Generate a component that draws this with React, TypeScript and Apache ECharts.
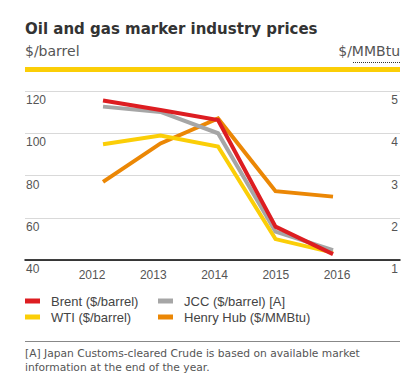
import React, { useEffect, useRef } from "react";
import * as echarts from "echarts";

const years = ["2012", "2013", "2014", "2015", "2016"];
const brent = [115.5, 111, 106.3, 55.8, 42.8];
const jcc = [112.6, 110.1, 100, 53.4, 44.7];
const wti = [94.8, 98.9, 93.7, 49.9, 43.5];
const henryHub = [2.85, 3.76, 4.35, 2.63, 2.5];
const leftTicks = { min: 40, max: 120, interval: 20 };
const rightTicks = { min: 1, max: 5, interval: 1 };

const names = {
  brent: "Brent ($/barrel)",
  wti: "WTI ($/barrel)",
  jcc: "JCC ($/barrel) [A]",
  hh: "Henry Hub ($/MMBtu)",
};

const colors = { brent: "#dd1d21", wti: "#fbce07", jcc: "#a6a6a6", hh: "#eb8705" };

const pairs = (vals: number[]) => vals.map((v, i) => [Number(years[i]), v]);

export default function App() {
  const ref = useRef<HTMLDivElement>(null);
  useEffect(() => {
    if (!ref.current) return;
    const chart = echarts.init(ref.current, undefined, { renderer: "svg" });
    const txt = "#555";
    const legendItems = [
      { name: names.brent, color: colors.brent, x: 25, y: 301 },
      { name: names.wti, color: colors.wti, x: 25, y: 317 },
      { name: names.jcc, color: colors.jcc, x: 158, y: 301 },
      { name: names.hh, color: colors.hh, x: 158, y: 317 },
    ];
    const legendGraphics = legendItems.flatMap((it) => [
      {
        type: "rect",
        shape: { x: it.x, y: it.y - 2.5, width: 15, height: 5 },
        style: { fill: it.color },
      },
      {
        type: "text",
        x: it.x + 26,
        y: it.y,
        style: {
          text: it.name,
          fontFamily: "Liberation Sans, Arial, sans-serif",
          fontSize: 13,
          fill: "#444",
          verticalAlign: "middle",
        },
      },
    ]);
    const lineSeries = (name: string, vals: number[], color: string, yAxisIndex = 0) => ({
      type: "line",
      name,
      data: pairs(vals),
      xAxisIndex: 0,
      yAxisIndex,
      symbol: "none",
      lineStyle: { color, width: 4, cap: "butt", join: "miter" },
      itemStyle: { color },
    });
    chart.setOption({
      animation: false,
      grid: [
        { left: 25, right: 15, top: 91, bottom: 125 },
        { left: 61.4, right: 47.4, top: 91, bottom: 125 },
      ],
      xAxis: [
        {
          gridIndex: 0,
          type: "value",
          min: 2010.643,
          max: 2017.165,
          axisLabel: { show: false },
          axisTick: { show: false },
          splitLine: { show: false },
          axisLine: { show: true, onZero: false, lineStyle: { color: "#000", width: 1.5 } },
        },
        {
          gridIndex: 1,
          type: "category",
          data: years,
          boundaryGap: true,
          axisLine: { show: false },
          axisTick: { show: false },
          axisLabel: {
            margin: 9,
            fontSize: 12,
            color: txt,
            fontFamily: "Liberation Sans, Arial, sans-serif",
          },
        },
      ],
      yAxis: [
        {
          gridIndex: 0,
          type: "value",
          position: "left",
          ...leftTicks,
          axisLine: { show: false },
          axisTick: { show: false },
          splitLine: { show: true, lineStyle: { color: "#d9d9d9", width: 1 } },
          axisLabel: {
            inside: true,
            margin: 1,
            verticalAlign: "top",
            padding: [3, 0, 0, 0],
            fontSize: 12,
            color: txt,
            fontFamily: "Liberation Sans, Arial, sans-serif",
          },
        },
        {
          gridIndex: 0,
          type: "value",
          position: "right",
          ...rightTicks,
          axisLine: { show: false },
          axisTick: { show: false },
          splitLine: { show: false },
          axisLabel: {
            inside: true,
            margin: 2,
            verticalAlign: "top",
            padding: [3, 0, 0, 0],
            fontSize: 12,
            color: txt,
            fontFamily: "Liberation Sans, Arial, sans-serif",
          },
        },
        { gridIndex: 1, type: "value", show: false },
      ],
      series: [
        lineSeries(names.hh, henryHub, colors.hh, 1),
        lineSeries(names.wti, wti, colors.wti),
        lineSeries(names.jcc, jcc, colors.jcc),
        lineSeries(names.brent, brent, colors.brent),
      ],
      graphic: [
        {
          type: "text",
          x: 25,
          y: 29,
          style: {
            text: "Oil and gas marker industry prices",
            fontFamily: "DejaVu Sans, Verdana, sans-serif",
            fontWeight: "bold",
            fontSize: 15,
            fill: "#333",
            verticalAlign: "middle",
          },
        },
        {
          type: "text",
          x: 25,
          y: 51,
          style: {
            text: "$/barrel",
            fontFamily: "DejaVu Sans, Verdana, sans-serif",
            fontSize: 14,
            fill: txt,
            verticalAlign: "middle",
          },
        },
        {
          type: "text",
          x: 400,
          y: 51,
          style: {
            text: "$/MMBtu",
            fontFamily: "DejaVu Sans, Verdana, sans-serif",
            fontSize: 14,
            fill: txt,
            align: "right",
            verticalAlign: "middle",
          },
        },
        {
          type: "line",
          shape: { x1: 353, y1: 62.5, x2: 400, y2: 62.5 },
          style: { stroke: "#333", lineWidth: 1, lineDash: [1, 1] },
        },
        {
          type: "rect",
          shape: { x: 25, y: 67, width: 375, height: 5 },
          style: { fill: colors.wti },
        },
        ...legendGraphics,
        {
          type: "line",
          shape: { x1: 25, y1: 341.5, x2: 400, y2: 341.5 },
          style: { stroke: "#888", lineWidth: 1 },
        },
        {
          type: "text",
          x: 25,
          y: 353,
          style: {
            text: "[A] Japan Customs-cleared Crude is based on available market",
            fontFamily: "DejaVu Sans, Verdana, sans-serif",
            fontSize: 10.7,
            fill: txt,
            verticalAlign: "middle",
          },
        },
        {
          type: "text",
          x: 25,
          y: 367.5,
          style: {
            text: "information at the end of the year.",
            fontFamily: "DejaVu Sans, Verdana, sans-serif",
            fontSize: 10.7,
            fill: txt,
            verticalAlign: "middle",
          },
        },
      ],
    });
    return () => chart.dispose();
  }, []);
  return (
    <div
      ref={ref}
      style={{ position: "fixed", left: 0, top: 0, width: 415, height: 385, background: "#fff" }}
    />
  );
}
